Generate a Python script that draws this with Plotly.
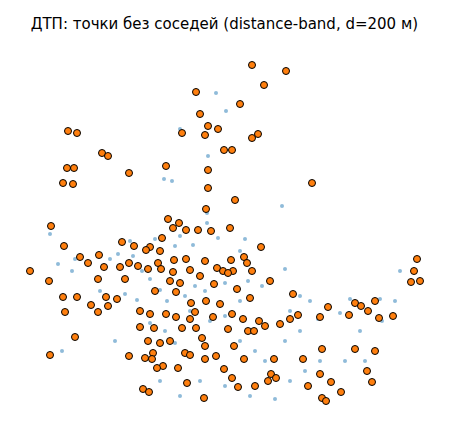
import plotly.graph_objects as go

iso_x = [252,286,264,196,240,200,208,218,182,205,252,258,68,77,224,232,102,108,67,74,166,208,129,63,73,312,208,235,206,168,51,179,173,186,198,211,230,162,122,134,150,160,64,99,261,146,80,158,174,186,205,231,244,247,217,30,88,104,120,129,138,148,161,173,190,200,223,233,252,228,270,417,414,420,411,49,98,125,170,180,214,237,63,77,91,106,108,117,155,176,191,206,220,250,293,140,150,166,176,190,195,232,243,213,328,355,361,375,368,379,393,349,65,98,259,265,320,290,298,182,154,140,148,160,170,153,75,202,248,254,228,196,280,234,205,129,50,145,152,185,190,216,355,375,322,303,274,244,205,163,178,157,224,232,271,276,268,320,331,367,372,187,255,308,238,143,149,204,322,326,341]
iso_y = [64,70,84,91,103,113,125,128,132,134,137,133,130,132,149,149,152,155,167,167,165,169,172,182,183,182,187,199,208,218,225,222,227,229,229,230,227,237,241,245,246,250,245,254,246,249,256,262,259,258,260,259,256,262,267,270,262,266,266,262,265,268,268,271,269,275,270,270,270,272,280,258,270,280,281,280,278,278,280,282,283,288,296,296,304,296,305,298,290,291,302,300,303,297,293,310,313,313,316,318,311,313,318,316,306,302,305,300,310,317,315,314,311,311,320,325,316,318,314,327,327,326,340,342,340,352,336,337,330,330,328,327,323,345,345,355,354,357,358,352,354,355,348,350,348,358,358,358,358,365,367,367,368,377,373,377,380,373,381,370,381,382,385,385,386,388,391,397,397,400,391]

nb_x = [226,216,180,164,172,208,207,207,193,218,245,282,50,58,72,75,110,118,133,142,150,160,167,185,195,225,248,262,285,300,310,318,340,350,380,400,395,382,100,125,137,150,165,175,210,225,240,255,265,285,300,290,305,320,345,365,250,275,225,180,200,160,115,62,180,155,240,175,130,360,290,240,205,190]
nb_y = [110,92,128,178,180,155,212,222,244,237,238,205,233,263,270,258,258,253,255,270,278,289,300,295,285,282,280,285,268,295,300,318,312,298,298,270,300,320,290,293,299,322,330,342,320,315,340,350,360,340,330,380,370,360,360,360,395,398,385,395,380,380,340,350,235,238,250,245,240,330,310,300,290,310]

fig = go.Figure()
fig.add_trace(go.Scatter(x=nb_x, y=nb_y, mode="markers",
    marker=dict(size=4, color="rgba(31,119,180,0.5)"), showlegend=False))
fig.add_trace(go.Scatter(x=iso_x, y=iso_y, mode="markers",
    marker=dict(size=7, color="#ff7f0e", line=dict(color="black", width=1)), showlegend=False))
fig.update_layout(
    width=449, height=427, margin=dict(l=0, r=0, t=0, b=0),
    plot_bgcolor="white", paper_bgcolor="white",
    title=dict(text="ДТП: точки без соседей (distance-band, d=200 м)", x=0.482, xanchor="center",
               y=0.962, yanchor="middle", font=dict(family="DejaVu Sans", size=15, color="black")),
    xaxis=dict(range=[8, 457], visible=False),
    yaxis=dict(range=[434, 7], visible=False),
)
fig.write_html("out.html")
